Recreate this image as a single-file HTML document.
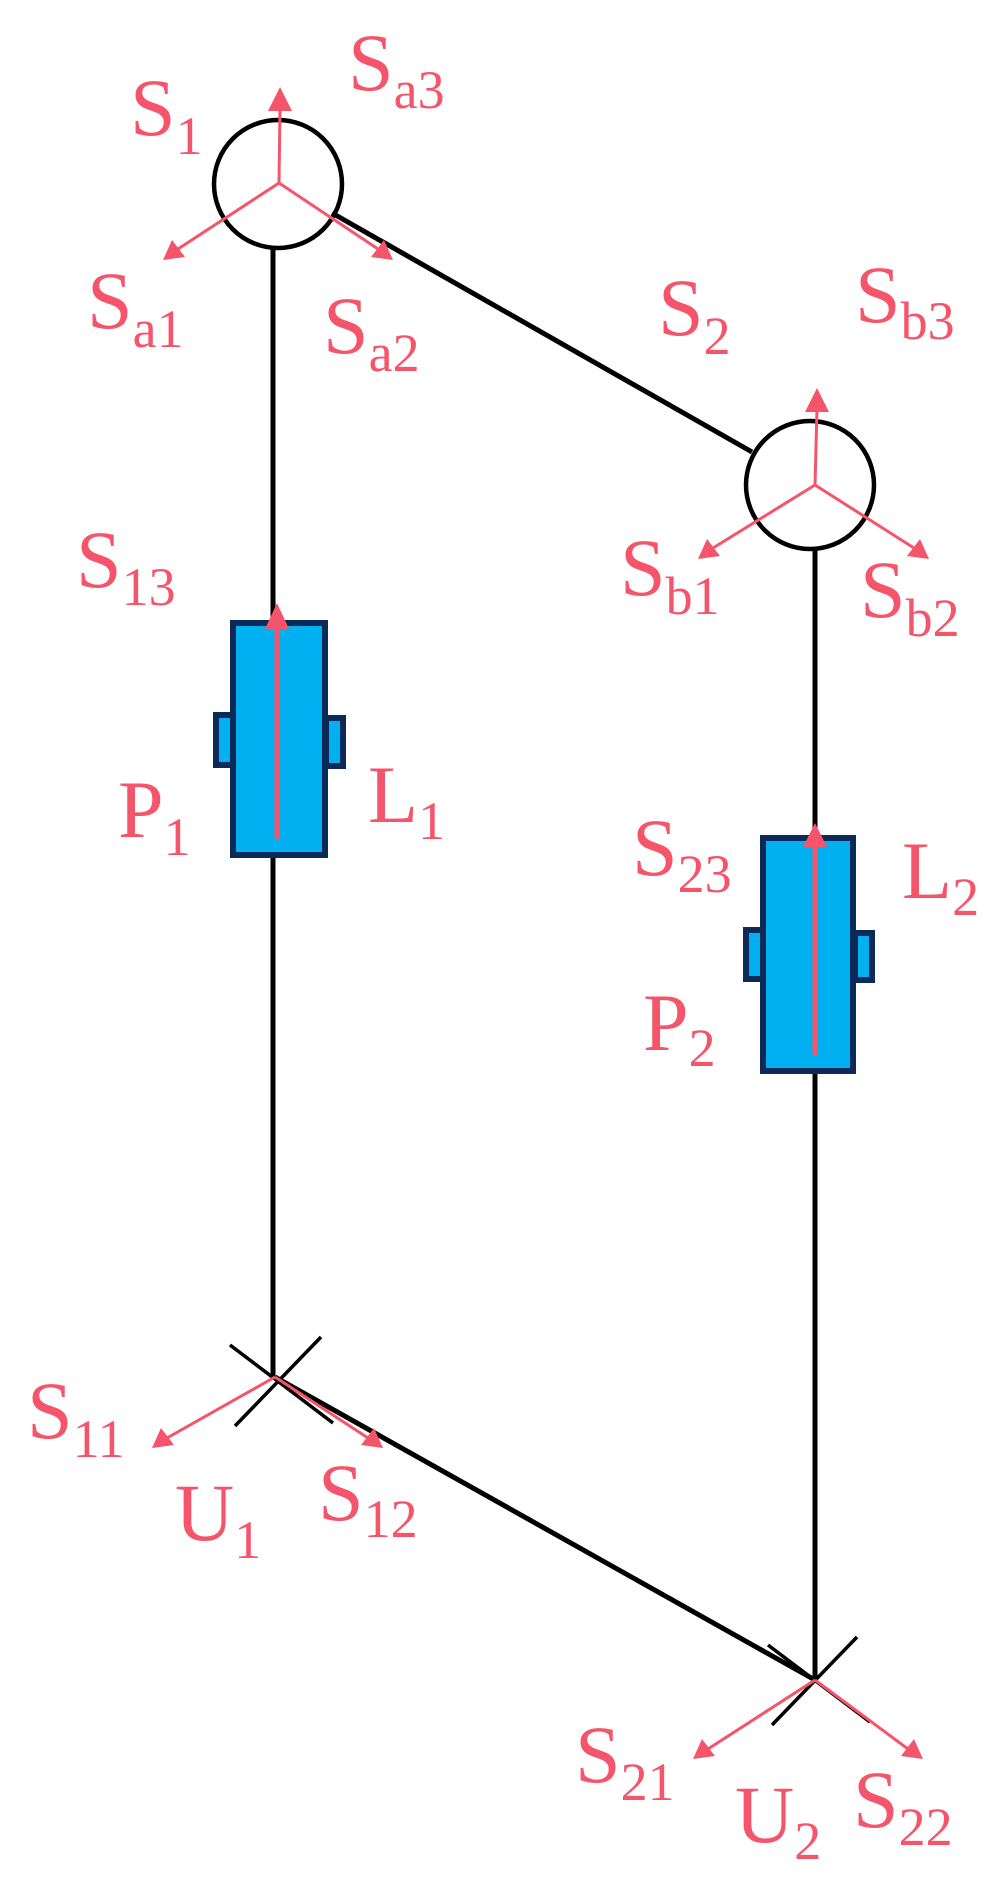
<!DOCTYPE html>
<html><head><meta charset="utf-8"><style>
html,body{margin:0;padding:0;background:#fff;}
svg{display:block;}
text{font-family:"Liberation Serif",serif;fill:#f5556a;font-size:82px;}
tspan.s{font-size:54px;}
</style></head><body>
<svg width="995" height="1881" viewBox="0 0 995 1881" xmlns="http://www.w3.org/2000/svg">
<defs>
<marker id="ah" viewBox="0 0 10 10" refX="9" refY="5" markerWidth="8" markerHeight="8" markerUnits="userSpaceOnUse" orient="auto">
</marker>
</defs>
<!-- black structure -->
<g stroke="#000" stroke-width="5" fill="none">
<line x1="273" y1="248" x2="273" y2="1377"/>
<line x1="815" y1="548" x2="815" y2="1680"/>
<line x1="332" y1="213" x2="752" y2="452"/>
<line x1="275" y1="1377" x2="815" y2="1680"/>
<circle cx="278" cy="184" r="64" stroke-width="4.5"/>
<circle cx="810" cy="485" r="64" stroke-width="4.5"/>
</g>
<g stroke="#000" stroke-width="3.5">
<line x1="230" y1="1345" x2="333" y2="1423"/>
<line x1="321" y1="1337" x2="235" y2="1426"/>
<line x1="768" y1="1645" x2="870" y2="1722"/>
<line x1="857" y1="1637" x2="772" y2="1725"/>
</g>
<!-- boxes -->
<g fill="#00b0f0" stroke="#0b2a57" stroke-width="6">
<rect x="216" y="715" width="18" height="50"/>
<rect x="326" y="718" width="17" height="48"/>
<rect x="233" y="623" width="92" height="232"/>
<rect x="746" y="930" width="19" height="49"/>
<rect x="855" y="933" width="17" height="47"/>
<rect x="763" y="838" width="90" height="233"/>
</g>
<!-- red arrows -->
<g stroke="#f5556a" stroke-width="3" fill="none">
<line x1="279" y1="183" x2="280" y2="108"/>
<line x1="279" y1="183" x2="178" y2="249"/>
<line x1="279" y1="183" x2="378" y2="249"/>
<line x1="815" y1="485" x2="817" y2="409"/>
<line x1="815" y1="485" x2="713" y2="548"/>
<line x1="815" y1="485" x2="914" y2="548"/>
<line x1="275" y1="1377" x2="167" y2="1438"/>
<line x1="275" y1="1377" x2="368" y2="1438"/>
<line x1="815" y1="1680" x2="708" y2="1749"/>
<line x1="815" y1="1680" x2="908" y2="1749"/>
<line x1="277" y1="837" x2="277" y2="625" stroke-width="5" stroke-linecap="round"/>
<line x1="815" y1="1053" x2="815" y2="845" stroke-width="5" stroke-linecap="round"/>
</g>
<g fill="#f5556a">
<polygon points="280,87 268,111 292,111"/>
<polygon points="163,260 172,240 185,257"/>
<polygon points="393,260 371,257 384,240"/>
<polygon points="817,388 805,412 829,412"/>
<polygon points="698,559 707,539 720,556"/>
<polygon points="929,559 907,556 920,539"/>
<polygon points="152,1448 161,1428 174,1445"/>
<polygon points="383,1448 361,1445 374,1428"/>
<polygon points="693,1759 702,1739 715,1756"/>
<polygon points="923,1759 901,1756 914,1739"/>
<polygon points="277,603 265,629 289,629"/>
<polygon points="815,823 803,847 827,847"/>
</g>
<!-- labels -->
<text x="130" y="135">S<tspan class="s" dy="19">1</tspan></text>
<text x="348" y="90">S<tspan class="s" dy="18">a3</tspan></text>
<text x="87" y="328">S<tspan class="s" dy="19">a1</tspan></text>
<text x="323" y="353">S<tspan class="s" dy="18">a2</tspan></text>
<text x="658" y="335">S<tspan class="s" dy="19">2</tspan></text>
<text x="855" y="322">S<tspan class="s" dy="17">b3</tspan></text>
<text x="76" y="587">S<tspan class="s" dy="18">13</tspan></text>
<text x="620" y="595">S<tspan class="s" dy="19">b1</tspan></text>
<text x="860" y="617">S<tspan class="s" dy="19">b2</tspan></text>
<text x="118" y="837">P<tspan class="s" dy="18">1</tspan></text>
<text x="368" y="822">L<tspan class="s" dy="17">1</tspan></text>
<text x="632" y="875">S<tspan class="s" dy="17">23</tspan></text>
<text x="902" y="898">L<tspan class="s" dy="17">2</tspan></text>
<text x="643" y="1050">P<tspan class="s" dy="16">2</tspan></text>
<text x="27" y="1438">S<tspan class="s" dy="19">11</tspan></text>
<text x="175" y="1540">U<tspan class="s" dy="18">1</tspan></text>
<text x="318" y="1520">S<tspan class="s" dy="17">12</tspan></text>
<text x="575" y="1782">S<tspan class="s" dy="18">21</tspan></text>
<text x="735" y="1842">U<tspan class="s" dy="17">2</tspan></text>
<text x="853" y="1827">S<tspan class="s" dy="18">22</tspan></text>
</svg>
</body></html>
